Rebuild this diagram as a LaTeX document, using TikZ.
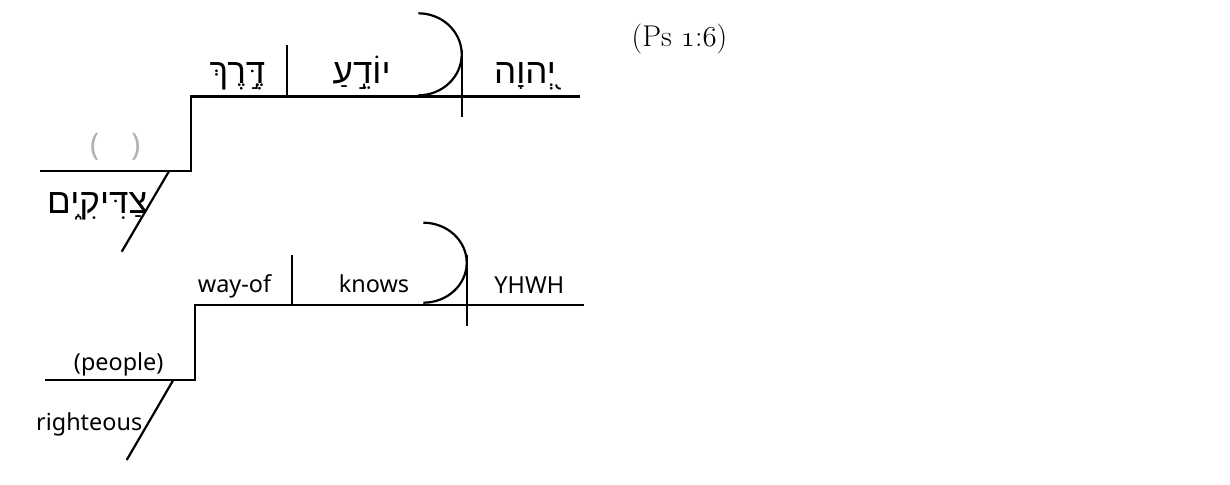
\documentclass[tikz,border=0pt]{standalone}
\usepackage{fontspec}
\usepackage{xcolor}
\usepackage{tikz}
\usetikzlibrary{positioning}
\newfontfamily\engfont{Noto Sans}
\newfontfamily\hebfont[Script=Hebrew]{Liberation Sans}
\TeXXeTstate=1

\begin{document}
\begin{tikzpicture}[x=0.5pt, y=-0.5pt]
    \tikzstyle{line} = [draw, line width=1.1pt]
    \tikzstyle{heb} = [font=\hebfont\fontsize{17.5}{20}\selectfont, anchor=base, inner sep=0pt]
    \tikzstyle{eng} = [font=\engfont\fontsize{11.7}{14}\selectfont, anchor=base, inner sep=0pt]
    \useasboundingbox (0,0) rectangle (1230,484);

    % 希伯来文图
    \coordinate (hstep) at (190.7,96.5);
    \coordinate (hend) at (580,96.5);
    \coordinate (hcorner) at (190.7,170.7);
    \coordinate (hsubj) at (40,170.7);
    \coordinate (hslanttop) at (169.3,170.7);
    \coordinate (hslantbot) at (121.7,251.7);
    \coordinate (hdivtop) at (287.3,45);
    \coordinate (hdivbot) at (287.3,96.5);
    \coordinate (harctop) at (418.3,13.3);
    \coordinate (hbartop) at (461.7,50);
    \coordinate (hbarbot) at (461.7,116.7);

    \path [line] (hsubj) -- (hcorner) -- (hstep) -- (hend);
    \path [line] (hslanttop) -- (hslantbot);
    \path [line] (hdivtop) -- (hdivbot);
    \path [line] (hbartop) -- (hbarbot);
    \path [line] (harctop) arc[start angle=-90, end angle=90, x radius=43.4, y radius=41];

    \node[heb] (hderek) at (237.5,83) {\beginR דֶּ֣רֶךְ\endR};
    \node[heb] (hyodea) at (361.7,83) {\beginR יוֹדֵ֣עַ\endR};
    \node[heb] (hyhwh) at (525,83) {\beginR יְ֭הוָה\endR};
    \node[eng, font=\engfont\fontsize{15.5}{18}\selectfont, text=gray!60] (hgap) at (115.8,155.5) {(\hspace{16pt})};
    \node[heb] (hsaddiqim) at (97.4,213) {\beginR צַדִּיקִ֑ים\endR};

    % 英文图
    \coordinate (estep) at (195,305);
    \coordinate (eend) at (584.3,305);
    \coordinate (ecorner) at (195,380);
    \coordinate (esubj) at (45,380);
    \coordinate (eslanttop) at (173.3,380);
    \coordinate (eslantbot) at (126.7,460);
    \coordinate (edivtop) at (291.7,255);
    \coordinate (edivbot) at (291.7,305);
    \coordinate (earctop) at (423.3,222.7);
    \coordinate (ebartop) at (466.7,255);
    \coordinate (ebarbot) at (466.7,326);

    \path [line] (esubj) -- (ecorner) -- (estep) -- (eend);
    \path [line] (eslanttop) -- (eslantbot);
    \path [line] (edivtop) -- (edivbot);
    \path [line] (ebartop) -- (ebarbot);
    \path [line] (earctop) arc[start angle=-90, end angle=90, x radius=43.4, y radius=40];

    \node[eng] (eway) at (234.5,292.7) {way-of};
    \node[eng] (eknows) at (374,292.7) {knows};
    \node[eng] (eyhwh) at (529.3,293.3) {YHWH};
    \node[eng] (epeople) at (118.7,370) {(people)};
    \node[eng] (erighteous) at (89.2,430) {righteous};

    % 出处
    \node[anchor=base, inner sep=0pt, font=\fontsize{15}{18}\selectfont] (ref) at (679.5,46.7)
        {(Ps {\usefont{OML}{cmm}{m}{it}1}:{\usefont{OML}{cmm}{m}{it}6})};
\end{tikzpicture}
\end{document}
